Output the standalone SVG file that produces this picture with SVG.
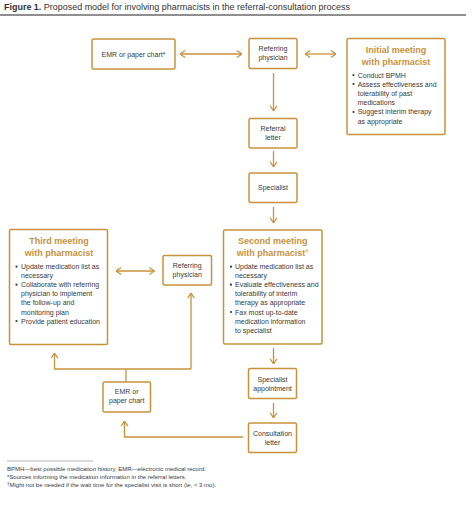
<svg xmlns="http://www.w3.org/2000/svg" width="472" height="505" viewBox="0 0 472 505">
<style>
  .box { fill: #ffffff; stroke: #c8923c; stroke-width: 1.5; }
  .lbl { font-family: "Liberation Sans", Arial, sans-serif; font-size: 7px; fill: #3a3a3a; text-anchor: middle; }
  .ttl { font-family: "Liberation Sans", Arial, sans-serif; font-size: 9px; font-weight: bold; fill: #c8923c; text-anchor: middle; }
  .bul { font-family: "Liberation Sans", Arial, sans-serif; font-size: 7px; fill: #3a3a3a; }
  .dot { fill: #3a3a3a; }
  .con { fill: none; stroke: #c8923c; stroke-width: 1.3; }
  .foot { font-family: "Liberation Sans", Arial, sans-serif; font-size: 6px; fill: #3a3a3a; }
</style>
<defs>
  <marker id="ah" viewBox="0 0 6 8" refX="5.6" refY="4" markerWidth="6" markerHeight="8" markerUnits="userSpaceOnUse" orient="auto-start-reverse">
    <path d="M0.5,0.6 L5.5,4 L0.5,7.4" fill="none" stroke="#c8923c" stroke-width="1.2"/>
  </marker>
</defs>

<rect width="472" height="505" fill="#ffffff"/>

<g id="title">
  <text x="4" y="10" font-family="'Liberation Sans', Arial, sans-serif" font-size="9" fill="#333" textLength="346" lengthAdjust="spacingAndGlyphs"><tspan font-weight="bold">Figure 1.</tspan> Proposed model for involving pharmacists in the referral-consultation process</text>
  <line x1="0" y1="15" x2="466" y2="15" stroke="#8f8f8f" stroke-width="2"/>
</g>

<g id="connectors">
  <path class="con" d="M180,54 H242" marker-start="url(#ah)" marker-end="url(#ah)"/>
  <path class="con" d="M305,54 H336" marker-start="url(#ah)" marker-end="url(#ah)"/>
  <path class="con" d="M273.5,73 V111" marker-end="url(#ah)"/>
  <path class="con" d="M273.5,151 V167" marker-end="url(#ah)"/>
  <path class="con" d="M273.5,207 V223" marker-end="url(#ah)"/>
  <path class="con" d="M273.5,348 V364" marker-end="url(#ah)"/>
  <path class="con" d="M273.5,403 V418" marker-end="url(#ah)"/>
  <path class="con" d="M243,437 H124.5 V421" marker-end="url(#ah)"/>
  <path class="con" d="M116,271 H154.5" marker-start="url(#ah)" marker-end="url(#ah)"/>
  <path class="con" d="M126,382 V369"/>
  <path class="con" d="M191,369 H54.5 V353" marker-end="url(#ah)"/>
  <path class="con" d="M191,369 V293" marker-end="url(#ah)"/>
</g>

<g id="emr-top">
  <rect class="box" x="92" y="39" width="83" height="30" rx="1.5"/>
  <text class="lbl" x="133.5" y="56.5">EMR or paper chart*</text>
</g>

<g id="referring-physician-top">
  <rect class="box" x="249" y="38.5" width="48" height="30" rx="1.5"/>
  <text class="lbl" x="273" y="50.8">Referring</text>
  <text class="lbl" x="273" y="59.8">physician</text>
</g>

<g id="initial-meeting">
  <rect class="box" x="347" y="38.5" width="98" height="96" rx="1.5"/>
  <text class="ttl" x="396" y="52.5">Initial meeting</text>
  <text class="ttl" x="396" y="65">with pharmacist</text>
  <circle class="dot" cx="353.5" cy="75" r="1.1"/>
  <text class="bul" x="357.7" y="77.5">Conduct BPMH</text>
  <circle class="dot" cx="353.5" cy="84" r="1.1"/>
  <text class="bul" x="357.7" y="86.5">Assess effectiveness and</text>
  <text class="bul" x="357.7" y="95.7">tolerability of past</text>
  <text class="bul" x="357.7" y="104.9">medications</text>
  <circle class="dot" cx="353.5" cy="112" r="1.1"/>
  <text class="bul" x="357.7" y="114.3">Suggest interim therapy</text>
  <text class="bul" x="357.7" y="123.5">as appropriate</text>
</g>

<g id="referral-letter">
  <rect class="box" x="249" y="118.5" width="48" height="29.5" rx="1.5"/>
  <text class="lbl" x="273" y="130.5">Referral</text>
  <text class="lbl" x="273" y="139.5">letter</text>
</g>

<g id="specialist">
  <rect class="box" x="249" y="173" width="48" height="29.5" rx="1.5"/>
  <text class="lbl" x="273" y="190">Specialist</text>
</g>

<g id="second-meeting">
  <rect class="box" x="223.5" y="230" width="98.5" height="114" rx="1.5"/>
  <text class="ttl" x="272.7" y="244">Second meeting</text>
  <text class="ttl" x="272.7" y="256">with pharmacist<tspan font-size="6" dy="-3.5">†</tspan></text>
  <circle class="dot" cx="231" cy="266.7" r="1.1"/>
  <text class="bul" x="235" y="269.2">Update medication list as</text>
  <text class="bul" x="235" y="278.3">necessary</text>
  <circle class="dot" cx="231" cy="284.7" r="1.1"/>
  <text class="bul" x="235" y="287.2">Evaluate effectiveness and</text>
  <text class="bul" x="235" y="296">tolerability of interim</text>
  <text class="bul" x="235" y="305.2">therapy as appropriate</text>
  <circle class="dot" cx="231" cy="312" r="1.1"/>
  <text class="bul" x="235" y="314.5">Fax most up-to-date</text>
  <text class="bul" x="235" y="323.5">medication information</text>
  <text class="bul" x="235" y="332.5">to specialist</text>
</g>

<g id="third-meeting">
  <rect class="box" x="9.5" y="229.5" width="98" height="115" rx="1.5"/>
  <text class="ttl" x="59" y="244">Third meeting</text>
  <text class="ttl" x="59" y="256">with pharmacist</text>
  <circle class="dot" cx="16.5" cy="266.7" r="1.1"/>
  <text class="bul" x="21" y="269.2">Update medication list as</text>
  <text class="bul" x="21" y="278.3">necessary</text>
  <circle class="dot" cx="16.5" cy="284.7" r="1.1"/>
  <text class="bul" x="21" y="287.2">Collaborate with referring</text>
  <text class="bul" x="21" y="296">physician to implement</text>
  <text class="bul" x="21" y="305">the follow-up and</text>
  <text class="bul" x="21" y="314.5">monitoring plan</text>
  <circle class="dot" cx="16.5" cy="321" r="1.1"/>
  <text class="bul" x="21" y="323.5">Provide patient education</text>
</g>

<g id="referring-physician-2">
  <rect class="box" x="163" y="255.5" width="48.5" height="29.5" rx="1.5"/>
  <text class="lbl" x="187.2" y="268.2">Referring</text>
  <text class="lbl" x="187.2" y="277">physician</text>
</g>

<g id="specialist-appointment">
  <rect class="box" x="248.5" y="368.5" width="48" height="30" rx="1.5"/>
  <text class="lbl" x="272.5" y="381.8">Specialist</text>
  <text class="lbl" x="272.5" y="390.5">appointment</text>
</g>

<g id="consultation-letter">
  <rect class="box" x="248.5" y="423" width="48" height="29.5" rx="1.5"/>
  <text class="lbl" x="272.5" y="435.8">Consultation</text>
  <text class="lbl" x="272.5" y="444.8">letter</text>
</g>

<g id="emr-bottom">
  <rect class="box" x="103" y="382" width="47.5" height="30" rx="1.5"/>
  <text class="lbl" x="126.7" y="394.2">EMR or</text>
  <text class="lbl" x="126.7" y="403.2">paper chart</text>
</g>

<g id="footnotes">
  <line x1="7" y1="461" x2="93" y2="461" stroke="#b5b5b5" stroke-width="1"/>
  <text class="foot" x="7" y="471">BPMH—best possible medication history, EMR—electronic medical record.</text>
  <text class="foot" x="7" y="478.7">*Sources informing the medication information in the referral letters.</text>
  <text class="foot" x="7" y="487"><tspan font-size="4.5" dy="-1.5">†</tspan><tspan dy="1.5">Might not be needed if the wait time for the specialist visit is short (ie, &lt; 3 mo).</tspan></text>
</g>
</svg>
